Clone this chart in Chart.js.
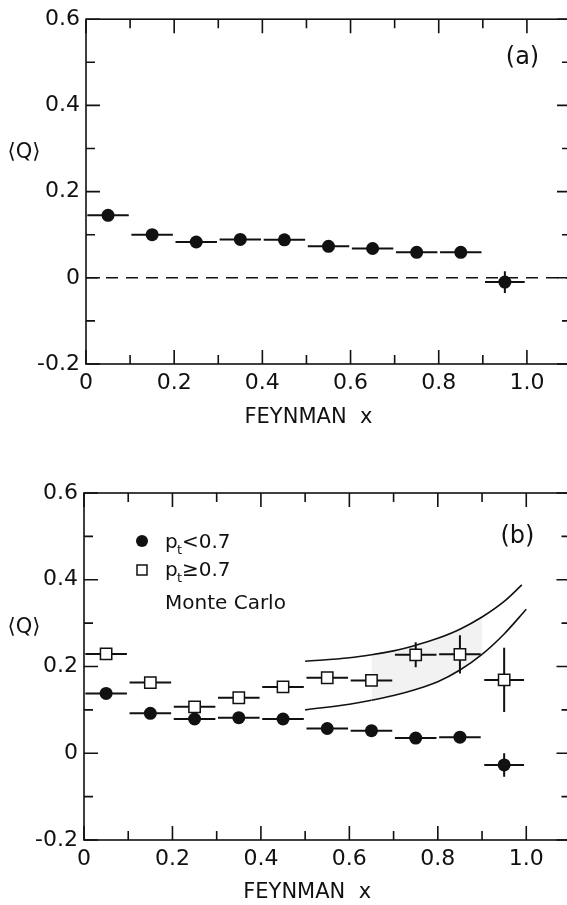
<!DOCTYPE html>
<html>
<head>
<meta charset="utf-8">
<script src="https://cdn.jsdelivr.net/npm/chart.js@4.4.1/dist/chart.umd.min.js"></script>
<style>
  html, body { margin: 0; padding: 0; background: #fff; overflow: hidden; width: 567px; height: 905px; }
  canvas { position: absolute; left: 0; }
  #chartA { top: 0; }
  #chartB { top: 450px; }
</style>
</head>
<body>
<canvas id="chartA" width="580" height="450"></canvas>
<canvas id="chartB" width="580" height="455"></canvas>
<script>
// Feynman-x bins (bin centres) and half-widths of the horizontal bars
const xBins = [0.05, 0.15, 0.25, 0.35, 0.45, 0.55, 0.65, 0.75, 0.85, 0.95];
const binHalf = [0.047, 0.047, 0.047, 0.047, 0.047, 0.047, 0.047, 0.047, 0.047, 0.045];

// (a) all tracks
const qAll    = [0.145, 0.100, 0.083, 0.089, 0.088, 0.073, 0.068, 0.059, 0.059, -0.010];
const qAllErr = [0, 0, 0, 0, 0, 0, 0, 0, 0.008, 0.025];

// (b) split by transverse momentum
const qLowPt     = [0.138, 0.092, 0.079, 0.082, 0.079, 0.057, 0.052, 0.035, 0.037, -0.027];
const qLowPtErr  = [0, 0, 0, 0, 0, 0, 0, 0, 0.010, 0.027];
const qHighPt    = [0.229, 0.163, 0.107, 0.128, 0.153, 0.174, 0.168, 0.227, 0.228, 0.169];
const qHighPtErr = [0, 0, 0, 0.008, 0.008, 0.012, 0.012, 0.029, 0.044, 0.074];

// Monte Carlo band edges
const mcUpperX = [0.5, 0.6, 0.65, 0.7, 0.75, 0.8, 0.85, 0.9, 0.95, 0.99];
const mcUpper  = [0.212, 0.220, 0.227, 0.236, 0.249, 0.265, 0.286, 0.314, 0.350, 0.388];
const mcLowerX = [0.5, 0.6, 0.65, 0.7, 0.75, 0.8, 0.85, 0.9, 0.95, 1.0];
const mcLower  = [0.100, 0.113, 0.122, 0.133, 0.147, 0.165, 0.192, 0.228, 0.275, 0.332];

// axis labels
const xTickLabels = ['0', '0.2', '0.4', '0.6', '0.8', '1.0'];
const yTickLabels = ['-0.2', '0', '0.2', '0.4', '0.6'];

const FONT = "'DejaVu Sans', sans-serif";
const INK = '#111';

const pts = (xs, ys) => xs.map((x, i) => ({ x: x, y: ys[i] }));

function xLabel(v) {
  const k = Math.round(v * 10);
  return k % 2 === 0 && k <= 10 ? xTickLabels[k / 2] : '';
}
function yLabel(v) {
  const k = Math.round(v * 10);
  return k % 2 === 0 ? yTickLabels[(k + 2) / 2] : '';
}

// frame with inward ticks on all four sides
const frameTicks = {
  id: 'frameTicks',
  afterDraw(chart) {
    const { ctx, chartArea: a, scales: { x, y } } = chart;
    ctx.save();
    ctx.strokeStyle = INK;
    ctx.lineWidth = 1.6;
    ctx.strokeRect(a.left, a.top, a.right - a.left, a.bottom - a.top);
    ctx.beginPath();
    x.ticks.forEach(t => {
      const len = Math.round(t.value * 10) % 2 === 0 ? 14 : 9;
      const px = x.getPixelForValue(t.value);
      ctx.moveTo(px, a.bottom); ctx.lineTo(px, a.bottom - len);
      ctx.moveTo(px, a.top); ctx.lineTo(px, a.top + len);
    });
    y.ticks.forEach(t => {
      const len = Math.round(t.value * 10) % 2 === 0 ? 14 : 9;
      const py = y.getPixelForValue(t.value);
      ctx.moveTo(a.left, py); ctx.lineTo(a.left + len, py);
      ctx.moveTo(a.right, py); ctx.lineTo(a.right - len, py);
    });
    ctx.stroke();
    ctx.restore();
  }
};

// horizontal bin bars and vertical error bars under the markers
const errorBars = {
  id: 'errorBars',
  beforeDatasetsDraw(chart) {
    const { ctx, scales: { x, y } } = chart;
    ctx.save();
    ctx.strokeStyle = INK;
    ctx.lineWidth = 2;
    chart.data.datasets.forEach(ds => {
      if (!ds.xErr) return;
      ds.data.forEach((p, i) => {
        const px = x.getPixelForValue(p.x), py = y.getPixelForValue(p.y);
        ctx.beginPath();
        ctx.moveTo(x.getPixelForValue(p.x - ds.xErr[i]), py);
        ctx.lineTo(x.getPixelForValue(p.x + ds.xErr[i]), py);
        if (ds.yErr[i] > 0) {
          ctx.moveTo(px, y.getPixelForValue(p.y - ds.yErr[i]));
          ctx.lineTo(px, y.getPixelForValue(p.y + ds.yErr[i]));
        }
        ctx.stroke();
      });
    });
    ctx.restore();
  }
};

// dashed zero line, panel tag, y title and (optionally) the key
const decorations = {
  id: 'decorations',
  afterDraw(chart, args, o) {
    const { ctx, chartArea: a, scales: { x, y } } = chart;
    ctx.save();
    ctx.fillStyle = INK;
    ctx.strokeStyle = INK;
    if (o.zeroLine) {
      ctx.setLineDash([12, 8]);
      ctx.lineWidth = 1.4;
      ctx.beginPath();
      ctx.moveTo(a.left, y.getPixelForValue(0));
      ctx.lineTo(a.right, y.getPixelForValue(0));
      ctx.stroke();
      ctx.setLineDash([]);
    }
    ctx.textAlign = 'center';
    ctx.textBaseline = 'middle';
    ctx.font = '24px ' + FONT;
    ctx.fillText(o.tag, x.getPixelForValue(o.tagAt[0]), y.getPixelForValue(o.tagAt[1]));
    ctx.font = '21px ' + FONT;
    ctx.fillText('\u27E8Q\u27E9', 24, y.getPixelForValue(0.29));
    ctx.fillText('FEYNMAN  x', x.getPixelForValue(0.5) + 2, a.bottom + o.titleGap);
    if (o.key) {
      const lx = a.left + 58, tx = a.left + 81;
      ctx.beginPath();
      ctx.arc(lx, a.top + 48, 6, 0, Math.PI * 2);
      ctx.fill();
      ctx.lineWidth = 1.5;
      ctx.strokeRect(lx - 5, a.top + 72, 10, 10);
      ctx.textAlign = 'left';
      ctx.textBaseline = 'alphabetic';
      const row = (yy, rel) => {
        ctx.font = '20px ' + FONT;
        ctx.fillText('p', tx, yy);
        ctx.font = '13px ' + FONT;
        ctx.fillText('t', tx + 12, yy + 6);
        ctx.font = '20px ' + FONT;
        ctx.fillText(rel + '0.7', tx + 17, yy);
      };
      row(a.top + 55, '<');
      row(a.top + 83, '\u2265');
      ctx.font = '20px ' + FONT;
      ctx.fillText('Monte Carlo', tx, a.top + 116);
    }
    ctx.restore();
  }
};

function scales(leftWidth, bottomHeight) {
  const tickFont = { family: FONT, size: 22 };
  return {
    x: {
      type: 'linear', min: 0, max: 1.1,
      grid: { display: false, drawTicks: false },
      border: { display: false },
      ticks: { stepSize: 0.1, autoSkip: false, maxRotation: 0, padding: 6, color: INK, font: tickFont, callback: xLabel },
      afterFit: s => { s.height = bottomHeight; }
    },
    y: {
      type: 'linear', min: -0.2, max: 0.6,
      grid: { display: false, drawTicks: false },
      border: { display: false },
      ticks: { stepSize: 0.1, padding: 6, color: INK, font: tickFont, callback: yLabel },
      afterFit: s => { s.width = leftWidth; }
    }
  };
}

const baseOptions = {
  responsive: false,
  animation: false,
  events: [],
  plugins: { legend: { display: false }, tooltip: { enabled: false } }
};

// panel (a)
new Chart(document.getElementById('chartA'), {
  type: 'scatter',
  data: {
    datasets: [{
      label: 'all',
      data: pts(xBins, qAll),
      xErr: binHalf, yErr: qAllErr,
      pointStyle: 'circle', pointRadius: 6.5,
      backgroundColor: INK, borderWidth: 0
    }]
  },
  options: Object.assign({}, baseOptions, {
    layout: { padding: { top: 13, right: 9, left: 0, bottom: 0 } },
    scales: scales(86, 86),
    plugins: Object.assign({}, baseOptions.plugins, {
      decorations: { zeroLine: true, tag: '(a)', tagAt: [0.99, 0.51], titleGap: 54 }
    })
  }),
  plugins: [errorBars, frameTicks, decorations]
});

// panel (b)
new Chart(document.getElementById('chartB'), {
  type: 'scatter',
  data: {
    datasets: [{
      label: 'pt < 0.7',
      data: pts(xBins, qLowPt),
      xErr: binHalf, yErr: qLowPtErr,
      pointStyle: 'circle', pointRadius: 6.5,
      backgroundColor: INK, borderWidth: 0, order: 0
    }, {
      label: 'pt >= 0.7',
      data: pts(xBins, qHighPt),
      xErr: binHalf, yErr: qHighPtErr,
      pointStyle: 'rect', pointRadius: 8,
      backgroundColor: '#fff', borderColor: INK, borderWidth: 1.5, order: 0
    }, {
      label: 'Monte Carlo upper',
      data: pts(mcUpperX, mcUpper),
      showLine: true, pointRadius: 0, borderColor: INK, borderWidth: 1.6,
      cubicInterpolationMode: 'monotone', order: 2
    }, {
      label: 'Monte Carlo lower',
      data: pts(mcLowerX, mcLower),
      showLine: true, pointRadius: 0, borderColor: INK, borderWidth: 1.6,
      cubicInterpolationMode: 'monotone', order: 2,
      fill: { target: 2 },
      backgroundColor: 'rgba(0,0,0,0)',
      segment: {
        backgroundColor: c => (c.p0.parsed.x >= 0.65 && c.p1.parsed.x <= 0.9) ? 'rgba(0,0,0,0.05)' : 'rgba(0,0,0,0)'
      }
    }]
  },
  options: Object.assign({}, baseOptions, {
    layout: { padding: { top: 43, right: 9, left: 0, bottom: 0 } },
    scales: scales(84, 65),
    plugins: Object.assign({}, baseOptions.plugins, {
      decorations: { zeroLine: false, tag: '(b)', tagAt: [0.98, 0.50], titleGap: 53, key: true }
    })
  }),
  plugins: [errorBars, frameTicks, decorations]
});
</script>
</body>
</html>
